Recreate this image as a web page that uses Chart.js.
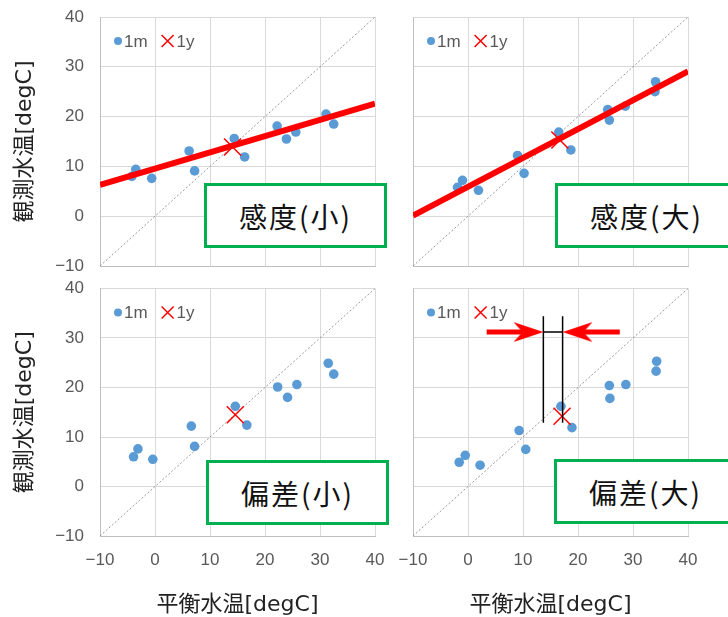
<!DOCTYPE html>
<html lang="ja">
<head>
<meta charset="UTF-8">
<title>感度と偏差</title>
<style>
  body { margin: 0; background: #fff; }
  #wrap { position: relative; width: 728px; height: 617px; overflow: hidden; }
  #wrap canvas { position: absolute; }
  .note {
    position: absolute; box-sizing: border-box; height: 65px; width: 183px;
    border: 3px solid #00b050; background: #fff; color: #111;
    font-family: "Noto Sans CJK JP", sans-serif; font-size: 28px; letter-spacing: 2px;
    display: flex; align-items: center; justify-content: center;
  }
</style>
<script src="https://cdn.jsdelivr.net/npm/chart.js@4"></script>
</head>
<body>
<div id="wrap">
  <canvas id="tl" width="390" height="280" style="left:0;top:0"></canvas>
  <canvas id="tr" width="338" height="280" style="left:390px;top:0"></canvas>
  <canvas id="bl" width="390" height="342" style="left:0;top:275px"></canvas>
  <canvas id="br" width="338" height="342" style="left:390px;top:275px"></canvas>
  <div class="note" style="left:204px;top:183px">感度(小)</div>
  <div class="note" style="left:555px;top:183px">感度(大)</div>
  <div class="note" style="left:206px;top:460px">偏差(小)</div>
  <div class="note" style="left:554px;top:459px">偏差(大)</div>
</div>
<script>
// monthly (1m) points and yearly (1y) point for each panel
const sensSmallX = [-4.2, -3.5, -0.6, 6.2, 7.2, 14.4, 16.3, 22.2, 23.9, 25.6, 31.1, 32.5];
const sensSmallY = [8.0, 9.4, 7.6, 13.1, 9.1, 15.6, 11.9, 18.1, 15.5, 16.9, 20.5, 18.5];
const sensSmallYear = [14.1, 13.9];

const sensLargeX = [-1.9, -1.0, 1.9, 9.0, 10.2, 16.5, 18.7, 25.4, 25.7, 28.6, 34.1, 34.0];
const sensLargeY = [5.8, 7.2, 5.2, 12.2, 8.6, 16.9, 13.3, 21.4, 19.3, 22.1, 27.0, 25.0];
const sensLargeYear = [16.7, 15.3];

const biasSmallX = [-3.9, -3.1, -0.4, 6.6, 7.2, 14.6, 16.7, 22.3, 24.1, 25.8, 31.5, 32.5];
const biasSmallY = [6.0, 7.6, 5.5, 12.2, 8.1, 16.2, 12.4, 20.1, 18.0, 20.6, 24.9, 22.7];
const biasSmallYear = [14.6, 14.5];

const biasLargeX = [-1.6, -0.5, 2.2, 9.3, 10.5, 16.9, 18.9, 25.7, 25.8, 28.7, 34.3, 34.2];
const biasLargeY = [4.9, 6.3, 4.3, 11.3, 7.5, 16.2, 11.9, 20.4, 17.8, 20.6, 25.3, 23.3];
const biasLargeYear = [17.1, 14.2];

// fitted lines (x ends, y ends)
const fitX = [-10, 40];
const sensSmallFit = [6.3, 22.6];
const sensLargeFit = [0.1, 29.1];
const oneToOne = [-10, 40];

// bracket and arrows in the bias(large) panel
const bracketX = [13.7, 17.2];
const bracketY = [12.9, 34.4];
const arrowY = 31.2;
const arrowLeftX = [3.4, 11.0];
const arrowRightX = [27.6, 19.9];

const tickVals = [-10, 0, 10, 20, 30, 40];
const xTitle = '平衡水温[degC]';
const yTitle = '観測水温[degC]';

const tickFont = { family: 'Liberation Sans', size: 17 };
const titleFont = { family: '"DejaVu Sans", "Noto Sans CJK JP"', size: 22, lineHeight: 1 };

function pts(xs, ys) {
  return xs.map((x, i) => ({ x: x, y: ys[i] }));
}

function fmt(v) {
  return v < 0 ? '\u2212' + Math.abs(v) : String(v);
}

function arrowHead(dir) {
  const c = document.createElement('canvas');
  c.width = 30; c.height = 20;
  const g = c.getContext('2d');
  g.fillStyle = '#ff0000';
  g.beginPath();
  if (dir > 0) {
    g.moveTo(30, 10); g.lineTo(0, 0); g.lineTo(9, 10); g.lineTo(0, 20);
  } else {
    g.moveTo(0, 10); g.lineTo(30, 0); g.lineTo(21, 10); g.lineTo(30, 20);
  }
  g.closePath();
  g.fill();
  return c;
}

function seg(data, color, width, order) {
  return {
    type: 'line', data: data, borderColor: color, borderWidth: width,
    pointRadius: 0, fill: false, showLine: true, order: order, borderCapStyle: 'butt'
  };
}

// legend drawn in one row inside the plot area, like the original
const innerLegend = {
  id: 'innerLegend',
  afterDatasetsDraw(chart) {
    const { ctx, chartArea } = chart;
    const y = chartArea.top + 24;
    let x = chartArea.left + 18;
    ctx.save();
    ctx.font = '17px "Liberation Sans"';
    ctx.textBaseline = 'middle';
    chart.data.datasets.filter(d => d.legendRadius).forEach(d => {
      ctx.fillStyle = d.backgroundColor;
      ctx.strokeStyle = d.borderColor || d.backgroundColor;
      ctx.lineWidth = d.borderWidth;
      Chart.helpers.drawPoint(ctx, { pointStyle: d.pointStyle, radius: d.legendRadius, borderWidth: d.borderWidth, rotation: 0 }, x, y);
      ctx.fillStyle = '#595959';
      ctx.fillText(d.label, x + d.legendGap, y + 1);
      x += d.legendGap + ctx.measureText(d.label).width + 20;
    });
    ctx.restore();
  }
};

function makePanel(id, p) {
  const datasets = [
    {
      label: '1m', data: pts(p.x, p.y), backgroundColor: '#5b9bd5', borderWidth: 0,
      pointStyle: 'circle', pointRadius: 4.8, pointHoverRadius: 4.8, order: 3,
      legendRadius: 4, legendGap: 6
    },
    {
      label: '1y', data: [{ x: p.year[0], y: p.year[1] }], borderColor: '#ff0000', backgroundColor: '#ff0000',
      borderWidth: 1.5, pointStyle: 'crossRot', pointRadius: 12, pointHoverRadius: 12, order: 2,
      legendRadius: 8.5, legendGap: 9
    },
    Object.assign(seg(pts(oneToOne, oneToOne), '#7f7f7f', 0.8, 5), { borderDash: [2, 2] })
  ];
  if (p.fit) {
    datasets.push(seg(pts(fitX, p.fit), '#ff0000', 6, 0));
  }
  (p.extra || []).forEach(d => datasets.push(d));

  const noPad = s => { s.paddingTop = 0; s.paddingBottom = 0; s.paddingLeft = 0; s.paddingRight = 0; };

  new Chart(document.getElementById(id), {
    type: 'scatter',
    data: { datasets: datasets },
    plugins: [innerLegend],
    options: {
      responsive: false,
      animation: false,
      events: [],
      layout: { padding: { top: p.padTop, right: p.padRight, left: 0, bottom: 0 } },
      plugins: {
        tooltip: { enabled: false },
        legend: { display: false }
      },
      scales: {
        x: {
          type: 'linear', min: -10, max: 40,
          afterBuildTicks: s => { s.ticks = tickVals.map(v => ({ value: v })); },
          afterFit: s => { s.height = p.xh; noPad(s); },
          grid: { color: '#d9d9d9', drawTicks: false },
          border: { color: '#bfbfbf' },
          ticks: { display: p.xTicks, padding: 14, color: '#595959', font: tickFont, callback: fmt, maxRotation: 0 },
          title: { display: p.xTicks, text: xTitle, color: '#222', font: titleFont, padding: { top: 0, bottom: 1 } }
        },
        y: {
          type: 'linear', min: -10, max: 40,
          afterBuildTicks: s => { s.ticks = tickVals.map(v => ({ value: v })); },
          afterFit: s => { s.width = p.yw; noPad(s); },
          grid: { color: '#d9d9d9', drawTicks: false },
          border: { color: '#bfbfbf' },
          ticks: { display: p.yTicks, padding: 16, color: '#595959', font: tickFont, callback: fmt },
          title: { display: p.yTicks, text: yTitle, color: '#222', font: titleFont, padding: { top: 14, bottom: 0 } }
        }
      }
    }
  });
}

makePanel('tl', {
  x: sensSmallX, y: sensSmallY, year: sensSmallYear, fit: sensSmallFit,
  padTop: 17, padRight: 15, yw: 100, xh: 14, xTicks: false, yTicks: true
});
makePanel('tr', {
  x: sensLargeX, y: sensLargeY, year: sensLargeYear, fit: sensLargeFit,
  padTop: 17, padRight: 40, yw: 23, xh: 14, xTicks: false, yTicks: false
});
makePanel('bl', {
  x: biasSmallX, y: biasSmallY, year: biasSmallYear, fit: null,
  padTop: 13, padRight: 15, yw: 100, xh: 81, xTicks: true, yTicks: true
});
makePanel('br', {
  x: biasLargeX, y: biasLargeY, year: biasLargeYear, fit: null,
  padTop: 13, padRight: 40, yw: 23, xh: 81, xTicks: true, yTicks: false,
  extra: [
    seg(pts([bracketX[0], bracketX[0]], bracketY), '#000', 1.5, 1),
    seg(pts([bracketX[1], bracketX[1]], bracketY), '#000', 1.5, 1),
    seg(pts(bracketX, [arrowY, arrowY]), '#000', 1.5, 1),
    seg(pts(arrowLeftX, [arrowY, arrowY]), '#ff0000', 5, 0),
    seg(pts(arrowRightX, [arrowY, arrowY]), '#ff0000', 5, 0),
    { data: [{ x: arrowLeftX[1], y: arrowY }], pointStyle: arrowHead(1), pointRadius: 10, order: 0 },
    { data: [{ x: arrowRightX[1], y: arrowY }], pointStyle: arrowHead(-1), pointRadius: 10, order: 0 }
  ]
});
</script>
</body>
</html>
